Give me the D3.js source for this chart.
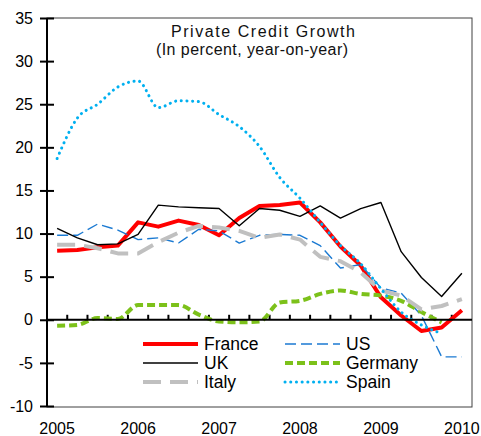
<!DOCTYPE html>
<html>
<head>
<meta charset="utf-8">
<script src="https://cdn.jsdelivr.net/npm/d3@7"></script>
<style>
  html, body { margin: 0; padding: 0; background: #fff; }
  svg { display: block; font-family: "Liberation Sans", Arial, sans-serif; }
</style>
</head>
<body>
<svg id="chart" width="481" height="436"></svg>
<script>
const quarters = ["2005Q1","2005Q2","2005Q3","2005Q4","2006Q1","2006Q2","2006Q3","2006Q4",
  "2007Q1","2007Q2","2007Q3","2007Q4","2008Q1","2008Q2","2008Q3","2008Q4",
  "2009Q1","2009Q2","2009Q3","2009Q4","2010Q1"];
const yearLabels = ["2005","2006","2007","2008","2009","2010"];
const yTicks = [-10,-5,0,5,10,15,20,25,30,35];

const france  = [8.0, 8.1, 8.4, 8.6, 11.3, 10.8, 11.5, 11.0, 9.8, 11.8, 13.2, 13.3, 13.6, 11.3, 8.5, 6.3, 2.6, 0.5, -1.3, -0.9, 1.1];
const us      = [9.8, 9.8, 11.1, 10.4, 9.3, 9.5, 8.9, 10.5, 10.3, 8.9, 9.8, 9.9, 9.8, 8.6, 6.0, 6.4, 3.7, 3.1, 0.5, -4.3, -4.3];
const uk      = [10.6, 9.5, 8.7, 8.8, 9.9, 13.3, 13.1, 13.0, 12.9, 10.9, 12.9, 12.7, 12.0, 13.2, 11.8, 12.9, 13.6, 7.9, 4.9, 2.7, 5.4];
const germany = [-0.7, -0.6, 0.2, 0.1, 1.7, 1.7, 1.7, 0.6, -0.2, -0.3, -0.2, 2.0, 2.2, 3.0, 3.4, 3.0, 2.8, 2.2, 0.9, -0.3];
const italy   = [8.7, 8.7, 8.3, 7.7, 7.7, 9.0, 10.1, 10.9, 10.7, 10.3, 9.5, 9.9, 9.3, 7.3, 6.8, 5.5, 3.4, 2.8, 1.2, 1.6, 2.4];
const spain   = [18.7, 23.4, 25.0, 27.0, 27.7, 24.6, 25.4, 25.3, 23.8, 22.4, 20.1, 16.5, 14.1, 11.3, 8.6, 6.5, 3.6, 0.9, -0.6, -1.6];

const seriesNames = ["France","US","UK","Germany","Italy","Spain"];
const seriesValues = [france, us, uk, germany, italy, spain];

const styles = {
  France:  {color:"#ff0000", width:4,   dash:null,  curve:d3.curveLinear},
  US:      {color:"#1b7ad2", width:1.4, dash:"11,5", curve:d3.curveLinear},
  UK:      {color:"#000000", width:1.4, dash:null,  curve:d3.curveLinear},
  Germany: {color:"#7cc11a", width:4,   dash:"8,4", curve:d3.curveMonotoneX},
  Italy:   {color:"#c0c0c0", width:4,   dash:"18,9", curve:d3.curveLinear},
  Spain:   {color:"#00b0f0", width:3,   dash:"0.1,5.6", cap:"round", curve:d3.curveMonotoneX}
};

const svg = d3.select("#chart");
svg.append("rect").attr("width",481).attr("height",436).attr("fill","#fff");

const L = 47, R = 472, T = 18, B = 406;
const x = d3.scaleBand().domain(quarters).range([L, R]).padding(0);
const y = d3.scaleLinear().domain([-10, 35]).range([B, T]);
const cx = q => x(q) + x.bandwidth() / 2;

// plot border
svg.append("rect").attr("x", L).attr("y", T).attr("width", R - L).attr("height", 407 - T)
  .attr("fill", "none").attr("stroke", "#404040").attr("stroke-width", 1);

// y axis
const yAxis = d3.axisLeft(y).tickValues(yTicks).tickFormat(d => String(d)).tickSize(7).tickPadding(7);
const gy = svg.append("g").attr("transform", `translate(${L},0)`).call(yAxis);
gy.select(".domain").attr("stroke", "#000").attr("stroke-width", 2).attr("d", `M0,${T}V407`);
gy.selectAll(".tick line").attr("stroke", "#000").attr("stroke-width", 2).attr("x1", 7);
gy.selectAll(".tick text").attr("font-size", 16).attr("fill", "#000")
  .attr("font-family", "'Liberation Sans', Arial, sans-serif");

// x labels (bottom)
const xAxis = d3.axisBottom(x)
  .tickValues(quarters.filter(q => q.endsWith("Q1")))
  .tickFormat(q => yearLabels[yearLabels.indexOf(q.slice(0,4))])
  .tickSize(0).tickPadding(16);
const gx = svg.append("g").attr("transform", `translate(0,407)`).call(xAxis);
gx.select(".domain").remove();
gx.selectAll(".tick text").attr("font-size", 16).attr("fill", "#000")
  .attr("font-family", "'Liberation Sans', Arial, sans-serif");

// zero line with category boundary ticks
const zeroY = y(0);
const gz = svg.append("g");
gz.selectAll("line.qt").data(quarters.slice(1)).join("line")
  .attr("x1", d => x(d)).attr("x2", d => x(d))
  .attr("y1", zeroY - 5).attr("y2", zeroY)
  .attr("stroke", "#000").attr("stroke-width", 2);

// series lines
seriesNames.forEach((name, si) => {
  const st = styles[name];
  const vals = seriesValues[si];
  const line = d3.line().x((d, i) => cx(quarters[i])).y(d => y(d)).curve(st.curve);
  svg.append("path").datum(vals).attr("d", line)
    .attr("fill", "none").attr("stroke", st.color).attr("stroke-width", st.width)
    .attr("stroke-dasharray", st.dash).attr("stroke-linecap", st.cap || "butt")
    .attr("stroke-linejoin", "round");
});

// zero axis line on top
svg.append("line").attr("x1", L).attr("x2", R).attr("y1", zeroY).attr("y2", zeroY)
  .attr("stroke", "#000").attr("stroke-width", 2);

// title
const title = svg.append("g").attr("font-size", 16).attr("fill", "#111");
title.append("text").attr("x", 263).attr("y", 37).attr("text-anchor", "middle")
  .attr("textLength", 184).attr("lengthAdjust", "spacing").text("Private Credit Growth");
title.append("text").attr("x", 252).attr("y", 55).attr("text-anchor", "middle")
  .attr("textLength", 192).attr("lengthAdjust", "spacing").text("(In percent, year-on-year)");

// legend
const legendPos = [
  {name:"France", lx:143, ly:344}, {name:"US", lx:285, ly:344},
  {name:"UK", lx:143, ly:363}, {name:"Germany", lx:285, ly:363},
  {name:"Italy", lx:143, ly:382}, {name:"Spain", lx:285, ly:382}
];
const lg = svg.append("g");
legendPos.forEach(p => {
  const st = styles[p.name];
  lg.append("line").attr("x1", p.lx).attr("x2", p.lx + 55).attr("y1", p.ly).attr("y2", p.ly)
    .attr("stroke", st.color).attr("stroke-width", st.width)
    .attr("stroke-dasharray", st.dash).attr("stroke-linecap", st.cap || "butt");
  lg.append("text").attr("x", p.lx + 61).attr("y", p.ly + 6).attr("font-size", 17.5)
    .attr("fill", "#000").text(p.name);
});
</script>
</body>
</html>
